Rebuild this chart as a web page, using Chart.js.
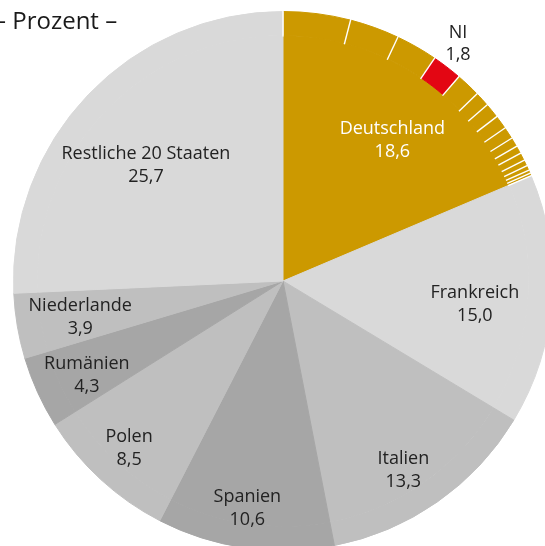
<!DOCTYPE html>
<html><head><meta charset="utf-8">
<script src="https://cdn.jsdelivr.net/npm/chart.js@4/dist/chart.umd.min.js"></script>
<style>
html,body{margin:0;padding:0;overflow:hidden;background:#fff;width:545px;height:546px;}
#wrap{position:absolute;left:0;top:0;width:566px;height:562px;}
#title{position:absolute;left:-6px;top:8px;font-family:'Open Sans';font-size:24px;line-height:24px;color:#1a1a1a;white-space:nowrap;z-index:2;}
</style></head><body>
<div id="wrap"><canvas id="c"></canvas></div>
<div id="title">– Prozent –</div>
<script>
// Countries (clockwise from top)
const categories = ['Deutschland','Frankreich','Italien','Spanien','Polen','Rumänien','Niederlande','Restliche 20 Staaten'];
const values = [18.6, 15.0, 13.3, 10.6, 8.5, 4.3, 3.9, 25.7];
// German Länder inside the Deutschland slice (clockwise)
const states = ['NW','BY','BW','NI','HE','BE','RP','SN','HH','SH','BB','TH','ST','MV','SL','HB'];
const stateValues = [4.03, 2.97, 2.5, 1.8, 1.47, 0.89, 0.89, 0.83, 0.72, 0.56, 0.47, 0.47, 0.36, 0.28, 0.2, 0.16];
const highlightState = 'NI';

const countryColors = ['#CC9900','#D9D9D9','#BFBFBF','#A6A6A6','#BFBFBF','#A6A6A6','#BFBFBF','#D9D9D9'];
const gold = '#CC9900', red = '#E30613';
const fmt = v => v.toFixed(1).replace('.', ',');

const ringData = stateValues.concat(values.slice(1));
const ringColors = states.map(s => s === highlightState ? red : gold).concat(countryColors.slice(1));

// label placement [radius fraction of full pie radius, angle offset deg]
const labelPlace = [[0.662,4.3],[0.717,2.8],[0.832,2.5],[0.855,0.8],[0.845,0],[0.807,-1.2],[0.764,-0.4],[0.665,-3.6]];
const stateLabelPlace = [1.095,-1.1];

const dividers = {
  id:'dividers',
  afterDatasetsDraw(chart){
    const meta = chart.getDatasetMeta(0);
    const ctx = chart.ctx;
    ctx.save();
    ctx.strokeStyle = '#ffffff';
    ctx.lineWidth = 1.4;
    for (let i = 0; i <= states.length; i++){
      const arc = meta.data[Math.min(i, states.length-1)];
      const p = arc.getProps(['x','y','startAngle','endAngle','innerRadius','outerRadius'], true);
      const a = i < states.length ? p.startAngle : p.endAngle;
      ctx.beginPath();
      ctx.moveTo(p.x + Math.cos(a)*(p.innerRadius-1), p.y + Math.sin(a)*(p.innerRadius-1));
      ctx.lineTo(p.x + Math.cos(a)*(p.outerRadius+1), p.y + Math.sin(a)*(p.outerRadius+1));
      ctx.stroke();
    }
    ctx.restore();
  }
};

const labels = {
  id:'labels',
  afterDraw(chart){
    const ctx = chart.ctx;
    ctx.save();
    ctx.font = '18px "Open Sans"';
    ctx.textAlign = 'center';
    ctx.textBaseline = 'middle';
    const R = chart.getDatasetMeta(0).data[0].getProps(['outerRadius'], true).outerRadius;
    const meta = chart.getDatasetMeta(1);
    const lh = 23;
    meta.data.forEach((arc, i) => {
      const p = arc.getProps(['x','y','startAngle','endAngle'], true);
      const [rf, off] = labelPlace[i];
      const a = (p.startAngle + p.endAngle)/2 + off*Math.PI/180;
      const r = rf * R;
      const cx = p.x + Math.cos(a)*r, cy = p.y + Math.sin(a)*r;
      ctx.fillStyle = i === 0 ? '#ffffff' : '#222222';
      ctx.fillText(categories[i], cx, cy - lh/2);
      ctx.fillText(fmt(values[i]), cx, cy + lh/2);
    });
    const rmeta = chart.getDatasetMeta(0);
    const si = states.indexOf(highlightState);
    const p = rmeta.data[si].getProps(['x','y','startAngle','endAngle'], true);
    const a = (p.startAngle + p.endAngle)/2 + stateLabelPlace[1]*Math.PI/180;
    const r = stateLabelPlace[0]*R;
    const cx = p.x + Math.cos(a)*r, cy = p.y + Math.sin(a)*r;
    ctx.fillStyle = '#222222';
    ctx.fillText(highlightState, cx, cy - 11);
    ctx.fillText(fmt(stateValues[si]), cx, cy + 11);
    ctx.restore();
  }
};

new Chart(document.getElementById('c'), {
  type:'pie',
  data:{
    labels: categories,
    datasets:[
      {data: ringData, backgroundColor: ringColors, borderColor: ringColors, borderWidth:1, weight:24},
      {data: values, backgroundColor: countryColors, borderColor: countryColors, borderWidth:1, weight:246}
    ]
  },
  options:{
    responsive:true, maintainAspectRatio:false, animation:false, events:[],
    layout:{padding:{left:13,right:13,top:11,bottom:11}},
    plugins:{legend:{display:false}, tooltip:{enabled:false}, title:{display:false}}
  },
  plugins:[dividers, labels]
});
</script>
</body></html>
